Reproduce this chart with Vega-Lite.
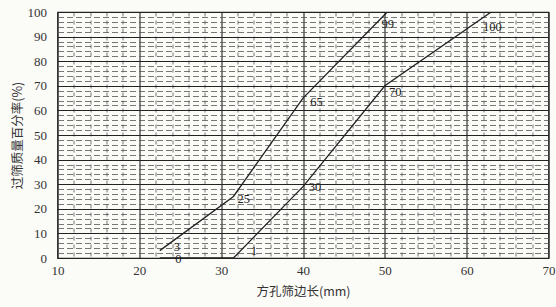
{
  "$schema": "https://vega.github.io/schema/vega-lite/v6.json",
  "width": 491,
  "height": 246,
  "autosize": {"type": "none"},
  "padding": {"left": 57.5, "top": 12, "right": 7.5, "bottom": 49},
  "background": "#fbfbf8",
  "config": {
    "view": {"stroke": "#222", "strokeWidth": 1.2},
    "font": "Liberation Serif"
  },
  "datasets": {
    "curves": [
      {"curve": "A", "size": 22.5, "pct": 3},
      {"curve": "A", "size": 31.5, "pct": 25},
      {"curve": "A", "size": 40, "pct": 65},
      {"curve": "A", "size": 50, "pct": 99},
      {"curve": "A", "size": 50.3, "pct": 100},
      {"curve": "B", "size": 22.5, "pct": 0},
      {"curve": "B", "size": 31.5, "pct": 0},
      {"curve": "B", "size": 40, "pct": 29},
      {"curve": "B", "size": 50, "pct": 70},
      {"curve": "B", "size": 63, "pct": 100}
    ],
    "labels": [
      {"size": 24.2, "pct": 4.6, "label": "3"},
      {"size": 24.4, "pct": -0.6, "label": "0"},
      {"size": 32.0, "pct": 24, "label": "25"},
      {"size": 33.6, "pct": 3, "label": "1"},
      {"size": 40.9, "pct": 63.4, "label": "65"},
      {"size": 40.7, "pct": 28.9, "label": "30"},
      {"size": 49.6, "pct": 95.1, "label": "99"},
      {"size": 50.5, "pct": 67.5, "label": "70"},
      {"size": 62.0, "pct": 93.9, "label": "100"}
    ]
  },
  "layer": [
    {
      "data": {"name": "curves"},
      "mark": {"type": "line", "color": "#222", "strokeWidth": 1.3, "clip": true},
      "encoding": {
        "x": {
          "field": "size", "type": "quantitative",
          "scale": {"domain": [10, 70], "nice": false, "zero": false},
          "axis": {
            "values": [10,12,14,16,18,20,22,24,26,28,30,32,34,36,38,40,42,44,46,48,50,52,54,56,58,60,62,64,66,68,70],
            "tickCount": 200,
            "format": "d",
            "grid": true,
            "gridColor": {"condition": {"test": "datum.value % 10 === 0", "value": "#222"}, "value": "#555"},
            "gridDash": {"condition": {"test": "datum.value % 10 === 0", "value": []}, "value": [4, 4]},
            "gridWidth": {"condition": {"test": "datum.value % 10 === 0", "value": 1.1}, "value": 0.8},
            "ticks": false,
            "domain": false,
            "labelOverlap": false,
            "labelFlush": false,
            "labelExpr": "datum.value % 10 === 0 ? datum.label : ''",
            "labelFont": "Liberation Serif",
            "labelFontSize": 13,
            "labelColor": "#333",
            "labelPadding": 6,
            "title": "方孔筛边长(mm)",
            "titleFont": "Noto Sans CJK SC",
            "titleFontSize": 12.5,
            "titleFontWeight": "normal",
            "titleColor": "#333",
            "titlePadding": 8
          }
        },
        "y": {
          "field": "pct", "type": "quantitative",
          "scale": {"domain": [0, 100], "nice": false},
          "axis": {
            "values": [0,2,4,6,8,10,12,14,16,18,20,22,24,26,28,30,32,34,36,38,40,42,44,46,48,50,52,54,56,58,60,62,64,66,68,70,72,74,76,78,80,82,84,86,88,90,92,94,96,98,100],
            "tickCount": 200,
            "format": "d",
            "grid": true,
            "gridColor": {"condition": {"test": "datum.value % 10 === 0", "value": "#222"}, "value": "#555"},
            "gridDash": {"condition": {"test": "datum.value % 10 === 0", "value": []}, "value": [6, 3]},
            "gridWidth": {"condition": {"test": "datum.value % 10 === 0", "value": 1.1}, "value": 0.8},
            "ticks": false,
            "domain": false,
            "labelOverlap": false,
            "labelFlush": false,
            "labelExpr": "datum.value % 10 === 0 ? datum.label : ''",
            "labelFont": "Liberation Serif",
            "labelFontSize": 13,
            "labelColor": "#333",
            "labelPadding": 11,
            "title": "过筛质量百分率(%)",
            "titleFont": "Noto Sans CJK SC",
            "titleFontSize": 12.5,
            "titleFontWeight": "normal",
            "titleColor": "#333",
            "titlePadding": 3
          }
        },
        "detail": {"field": "curve"},
        "order": {"field": "size"}
      }
    },
    {
      "data": {"name": "labels"},
      "mark": {"type": "text", "align": "left", "baseline": "middle", "font": "Liberation Serif", "fontSize": 12.5, "color": "#222"},
      "encoding": {
        "x": {"field": "size", "type": "quantitative"},
        "y": {"field": "pct", "type": "quantitative"},
        "text": {"field": "label"}
      }
    }
  ]
}
